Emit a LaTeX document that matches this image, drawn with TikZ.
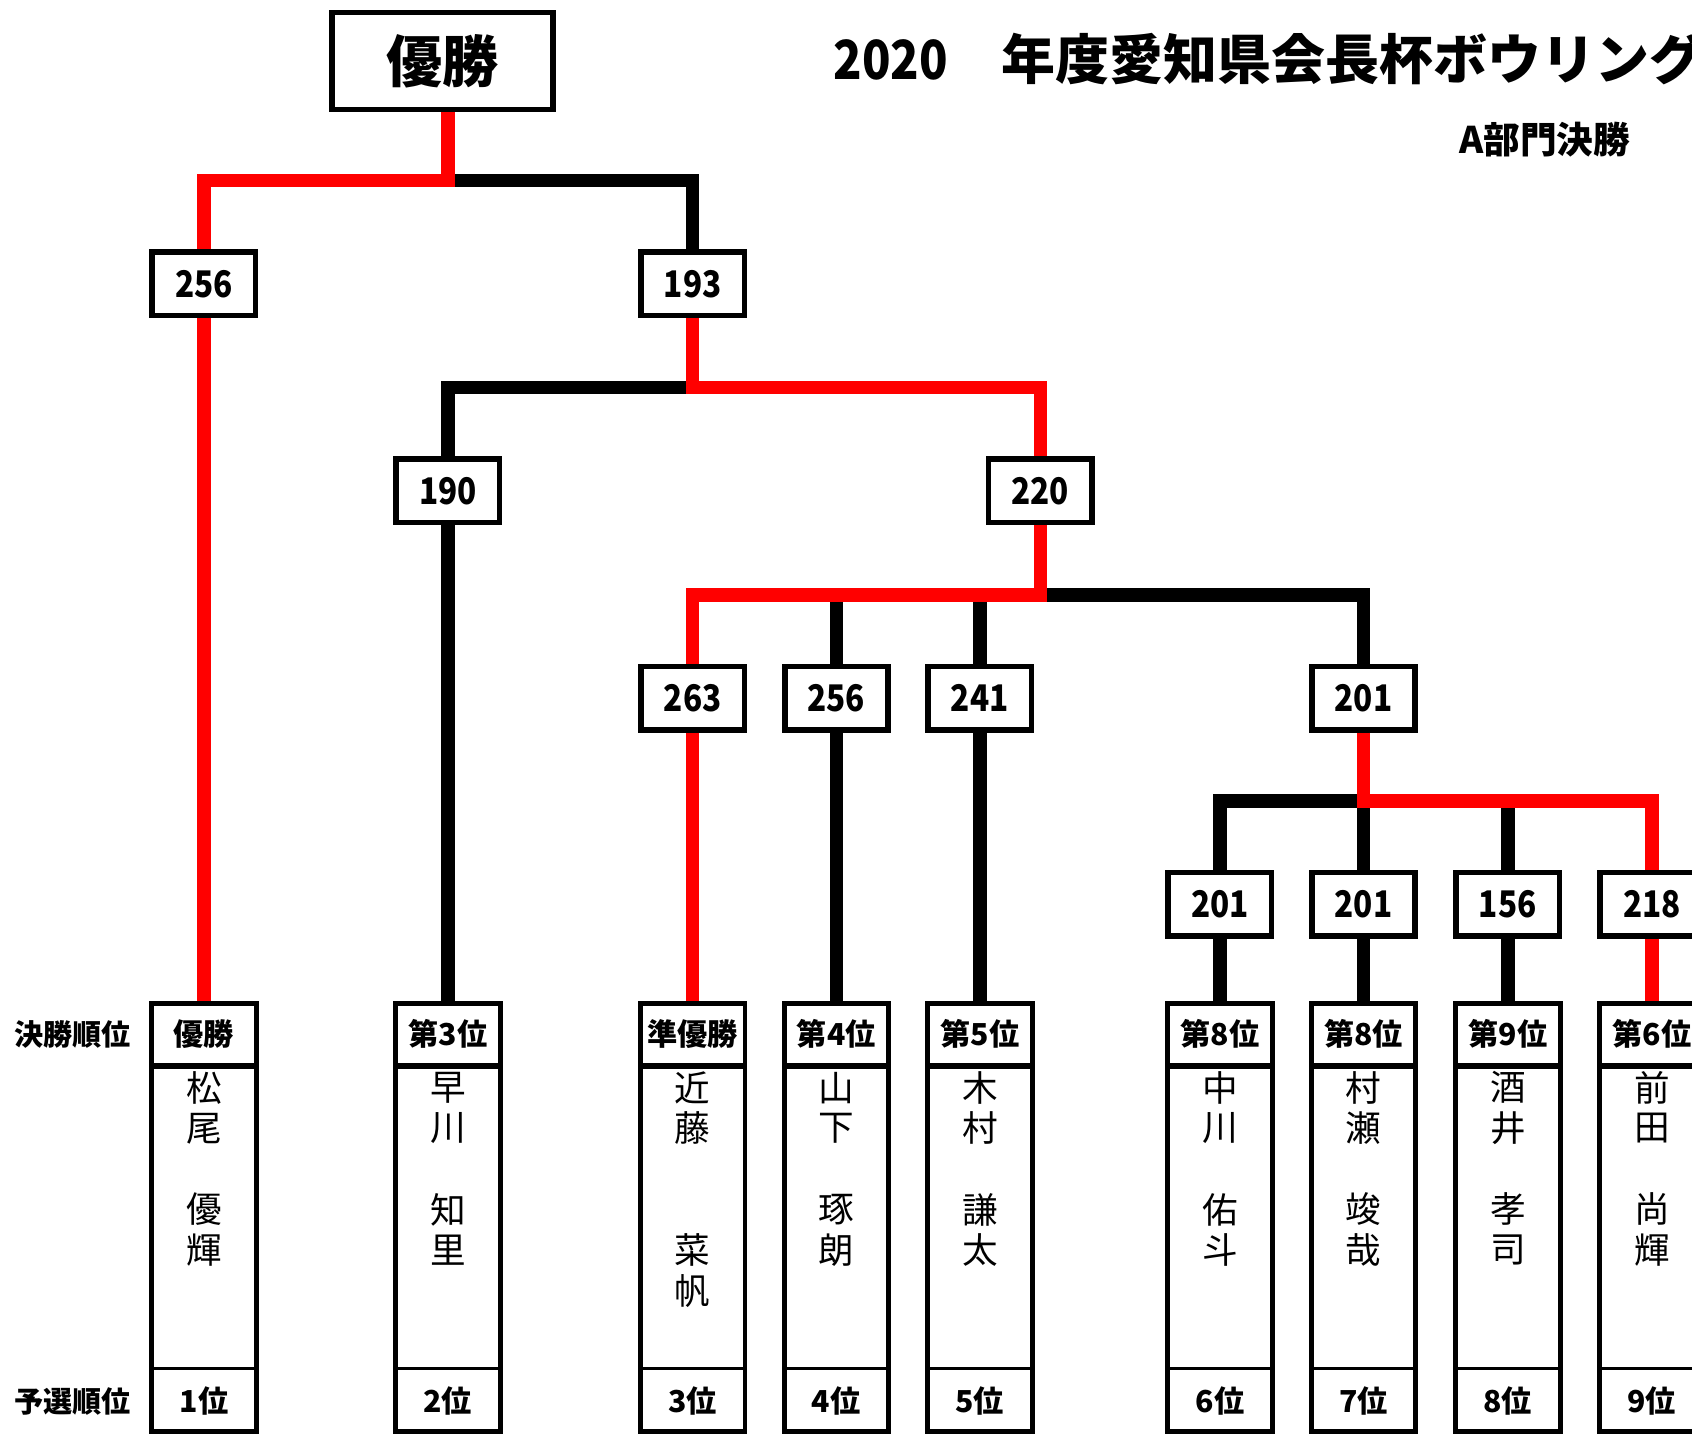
\documentclass[tikz,border=0pt]{standalone}
\usepackage{fontspec}
\usepackage{graphicx}
\setmainfont{Noto Sans CJK JP}
\newcommand\vertname[3]{%
  \foreach \ch [count=\i] in {#3} {\node[namech] (nm#1-\i) at (#2, {1008+37.6*(\i-1)}) {\ch};}%
}
\newcommand\scnum[1]{\scalebox{0.86}[1]{#1}}
\begin{document}
\begin{tikzpicture}[x=0.5pt,y=-0.5pt,
  wline/.style={line width=6.2pt, draw=red},
  lline/.style={line width=6.2pt, draw=black},
  score/.style={draw, fill=white, line width=2.65pt, minimum width=47.85pt, minimum height=29.35pt, inner sep=0pt, font=\fontsize{17}{18}\selectfont\bfseries},
  champ/.style={draw, fill=white, line width=2.5pt, minimum width=102.5pt, minimum height=44.85pt, inner sep=0pt, font=\fontsize{26}{28}\selectfont\bfseries},
  colframe/.style={draw, line width=2.3pt, minimum width=48.4pt, minimum height=198.5pt, inner sep=0pt},
  sepA/.style={line width=2.7pt},
  sepB/.style={line width=1.3pt},
  rank/.style={inner sep=0pt, font=\fontsize{14}{16}\selectfont\bfseries},
  namech/.style={inner sep=0pt, font=\fontsize{16.5}{18}\selectfont},
  side/.style={inner sep=0pt, font=\fontsize{13.5}{15}\selectfont\bfseries},
  titlef/.style={inner sep=0pt, font=\fontsize{25}{28}\selectfont\bfseries},
  subf/.style={inner sep=0pt, font=\fontsize{17}{19}\selectfont\bfseries}
]
\useasboundingbox (0,0) rectangle (1568,1329);

% titles
\node[titlef, anchor=base west] (title) at (772,74) {\scalebox{0.87}[1]{2020}　年度愛知県会長杯ボウリング};
\node[subf, anchor=base west] (sub) at (1352,142.7) {A部門決勝};

% champion box and score boxes
\node[champ] (top) at (410,56.7) {優勝};
\node[score] (s256) at (189,263) {\scnum{256}};
\node[score] (s193) at (642,263) {\scnum{193}};
\node[score] (s190) at (415,454.9) {\scnum{190}};
\node[score] (s220) at (964,454.9) {\scnum{220}};
\node[score] (s263) at (642,646.9) {\scnum{263}};
\node[score] (s256b) at (775,646.9) {\scnum{256}};
\node[score] (s241) at (908,646.9) {\scnum{241}};
\node[score] (s201a) at (1263.6,646.9) {\scnum{201}};
\node[score] (s201b) at (1130.5,837.8) {\scnum{201}};
\node[score] (s201c) at (1263.6,837.8) {\scnum{201}};
\node[score] (s156) at (1397.3,837.8) {\scnum{156}};
\node[score] (s218) at (1530.8,837.8) {\scnum{218}};

% columns
\foreach \id/\x/\rk/\pr in {1/189/優勝/1位, 2/415/第3位/2位, 3/642/準優勝/3位, 4/775/第4位/4位, 5/908/第5位/5位, 6/1130.5/第8位/6位, 7/1263.6/第8位/7位, 8/1397.3/第9位/8位, 9/1530.8/第6位/9位} {
  \node[colframe] (k\id) at (\x,1128.2) {};
  \draw[sepA] ({\x-48.4},987.5) -- ({\x+48.4},987.5);
  \draw[sepB] ({\x-48.4},1268.3) -- ({\x+48.4},1268.3);
  \node[rank] (h\id) at (\x,958.2) {\rk};
  \node[rank] (f\id) at (\x,1298.2) {\pr};
}

% names
\vertname{1}{189}{松,尾,,優,輝}
\vertname{2}{415}{早,川,,知,里}
\vertname{3}{642}{近,藤,,,菜,帆}
\vertname{4}{775}{山,下,,琢,朗}
\vertname{5}{908}{木,村,,謙,太}
\vertname{6}{1130.5}{中,川,,佑,斗}
\vertname{7}{1263.6}{村,瀬,,竣,哉}
\vertname{8}{1397.3}{酒,井,,孝,司}
\vertname{9}{1530.8}{前,田,,尚,輝}

% side labels
\node[side] (lab1) at (67,958.4) {決勝順位};
\node[side] (lab2) at (67,1299) {予選順位};

% junctions
\coordinate (j1) at (415,167.5);
\coordinate (j2) at (642,359.2);
\coordinate (j3) at (964,551.4);
\coordinate (j4) at (1263.6,742.3);

% losing (black) connectors
\draw[lline] (j1) -- (j1 -| s193) -- (s193.north);
\draw[lline] (j2) -- (j2 -| s190) -- (s190.north);
\draw[lline] (j3) -- (j3 -| s201a) -- (s201a.north);
\draw[lline] (s256b.north) -- (s256b.north |- j3);
\draw[lline] (s241.north) -- (s241.north |- j3);
\draw[lline] (j4) -- (j4 -| s201b) -- (s201b.north);
\draw[lline] (s201c.north) -- (s201c.north |- j4);
\draw[lline] (s156.north) -- (s156.north |- j4);
\draw[lline] (s190.south) -- (s190.south |- k2.north);
\draw[lline] (s256b.south) -- (s256b.south |- k4.north);
\draw[lline] (s241.south) -- (s241.south |- k5.north);
\draw[lline] (s201b.south) -- (s201b.south |- k6.north);
\draw[lline] (s201c.south) -- (s201c.south |- k7.north);
\draw[lline] (s156.south) -- (s156.south |- k8.north);

% winning (red) connectors
\draw[wline] (j1 |- top.south) -- (j1) -- (j1 -| s256) -- (s256.north);
\draw[wline] (s256.south) -- (s256.south |- k1.north);
\draw[wline] (s193.south) -- (j2) -- (j2 -| s220) -- (s220.north);
\draw[wline] (s220.south) -- (j3) -- (j3 -| s263) -- (s263.north);
\draw[wline] (s263.south) -- (s263.south |- k3.north);
\draw[wline] (s201a.south) -- (j4) -- (j4 -| s218) -- (s218.north);
\draw[wline] (s218.south) -- (s218.south |- k9.north);
\end{tikzpicture}
\end{document}
